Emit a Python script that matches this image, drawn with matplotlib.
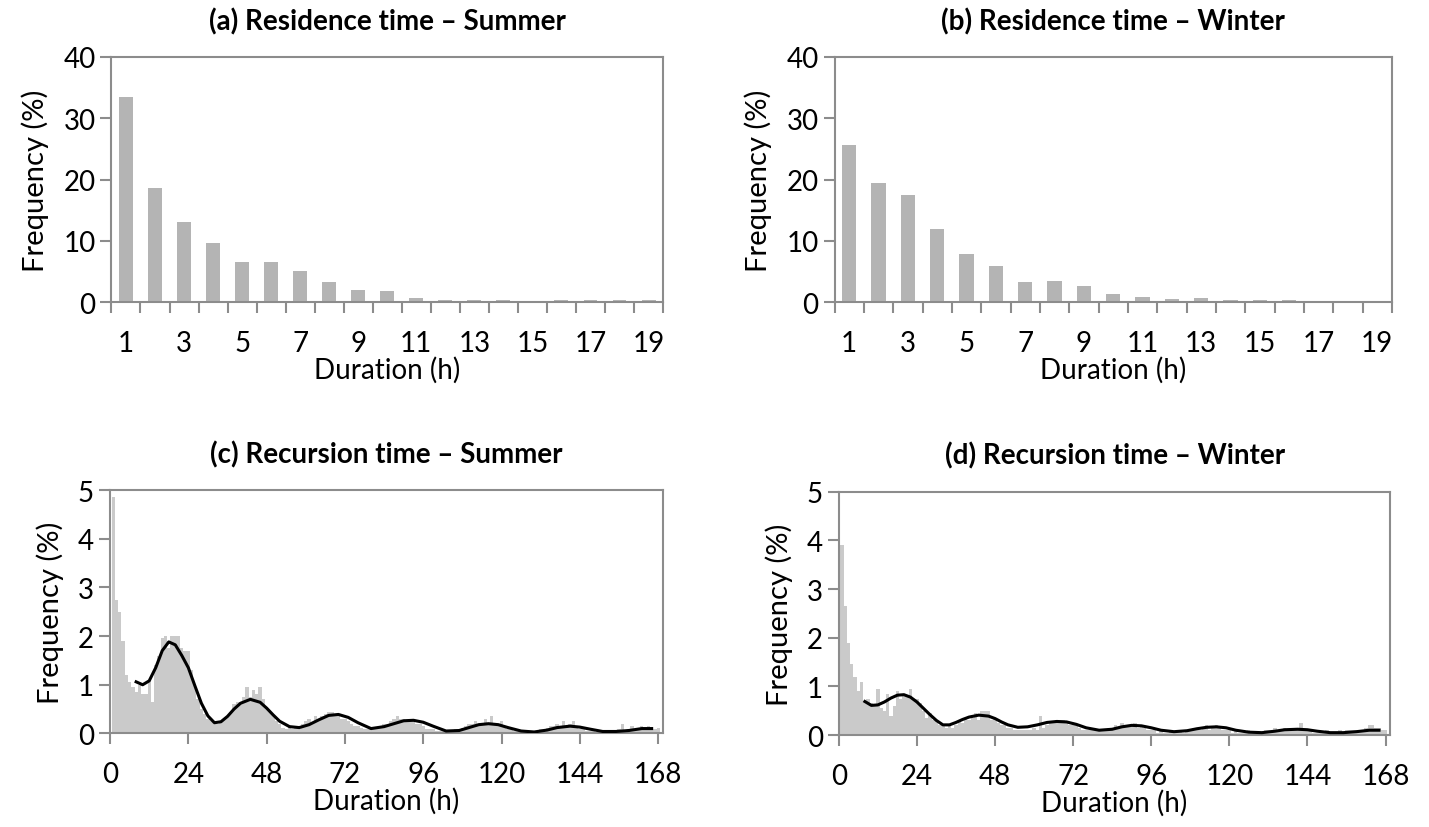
import matplotlib
matplotlib.use("Agg")
import matplotlib.pyplot as plt
import numpy as np

plt.rcParams['font.family'] = ['Lato', 'DejaVu Sans']

# residence time (%), hours 1..19
res_hours = list(range(1, 20))
res_summer = [33.5, 18.6, 13.1, 9.6, 6.6, 6.6, 5.1, 3.3, 2.0, 1.8,
              0.7, 0.3, 0.3, 0.3, 0.0, 0.3, 0.3, 0.3, 0.3]
res_winter = [25.6, 19.4, 17.4, 12.0, 7.9, 5.9, 3.3, 3.5, 2.7, 1.3,
              0.9, 0.5, 0.7, 0.3, 0.3, 0.3, 0.0, 0.0, 0.0]

# recursion time (%), hours 1..168
rec_hours = list(range(1, 169))
rec_summer = [
    4.85, 2.75, 2.5, 1.9, 1.2, 1.05, 0.95, 0.85, 1.0, 0.8,
    0.8, 1.1, 0.65, 1.4, 1.6, 1.95, 2.0, 1.75, 2.0, 2.0,
    2.0, 1.75, 1.7, 1.7, 1.3, 1.0, 0.7, 0.5, 0.4, 0.3,
    0.25, 0.2, 0.2, 0.25, 0.3, 0.35, 0.45, 0.6, 0.65, 0.65,
    0.75, 0.95, 0.75, 0.9, 0.8, 0.95, 0.7, 0.55, 0.45, 0.35,
    0.25, 0.2, 0.12, 0.1, 0.15, 0.1, 0.15, 0.1, 0.2, 0.25,
    0.3, 0.2, 0.35, 0.3, 0.35, 0.4, 0.45, 0.45, 0.4, 0.35,
    0.3, 0.3, 0.25, 0.2, 0.15, 0.15, 0.12, 0.1, 0.1, 0.1,
    0.1, 0.12, 0.15, 0.2, 0.2, 0.25, 0.3, 0.35, 0.3, 0.3,
    0.25, 0.3, 0.25, 0.2, 0.2, 0.15, 0.1, 0.1, 0.1, 0.05,
    0.05, 0.05, 0.08, 0.05, 0.05, 0.1, 0.1, 0.12, 0.15, 0.2,
    0.2, 0.25, 0.2, 0.2, 0.3, 0.2, 0.35, 0.2, 0.15, 0.25,
    0.15, 0.1, 0.1, 0.05, 0.05, 0.05, 0.03, 0.05, 0.03, 0.05,
    0.05, 0.1, 0.1, 0.12, 0.15, 0.15, 0.2, 0.15, 0.25, 0.15,
    0.2, 0.25, 0.15, 0.1, 0.1, 0.05, 0.05, 0.05, 0.03, 0.03,
    0.05, 0.05, 0.03, 0.05, 0.08, 0.1, 0.2, 0.05, 0.1, 0.15,
    0.1, 0.12, 0.15, 0.1, 0.15, 0.1, 0.1, 0.12]
rec_winter = [
    3.9, 2.65, 1.9, 1.45, 1.2, 0.9, 1.1, 0.7, 0.75, 0.65,
    0.6, 0.95, 0.55, 0.5, 0.85, 0.4, 0.6, 0.9, 0.75, 0.85,
    0.8, 0.95, 0.75, 0.75, 0.65, 0.5, 0.35, 0.45, 0.3, 0.3,
    0.2, 0.2, 0.15, 0.2, 0.15, 0.2, 0.3, 0.25, 0.35, 0.3,
    0.35, 0.45, 0.3, 0.5, 0.5, 0.5, 0.3, 0.35, 0.25, 0.2,
    0.2, 0.15, 0.15, 0.1, 0.1, 0.1, 0.1, 0.1, 0.1, 0.15,
    0.1, 0.4, 0.15, 0.2, 0.25, 0.25, 0.3, 0.3, 0.3, 0.25,
    0.2, 0.25, 0.2, 0.15, 0.1, 0.1, 0.1, 0.1, 0.12, 0.08,
    0.12, 0.1, 0.15, 0.15, 0.2, 0.15, 0.25, 0.2, 0.2, 0.2,
    0.25, 0.15, 0.2, 0.15, 0.1, 0.1, 0.1, 0.05, 0.08, 0.05,
    0.05, 0.1, 0.05, 0.1, 0.1, 0.05, 0.1, 0.1, 0.15, 0.1,
    0.1, 0.15, 0.2, 0.1, 0.15, 0.2, 0.15, 0.1, 0.1, 0.15,
    0.05, 0.1, 0.05, 0.05, 0.05, 0.1, 0.05, 0.05, 0.05, 0.05,
    0.1, 0.1, 0.1, 0.15, 0.1, 0.1, 0.15, 0.1, 0.15, 0.1,
    0.1, 0.25, 0.1, 0.1, 0.1, 0.05, 0.05, 0.05, 0.05, 0.1,
    0.05, 0.05, 0.05, 0.1, 0.05, 0.1, 0.1, 0.1, 0.1, 0.1,
    0.1, 0.15, 0.2, 0.2, 0.15, 0.15, 0.1, 0.1]

# smoothed curves
curve_hours = [8, 10, 12, 14, 16, 18, 20, 22, 24, 26,
               28, 30, 32, 34, 36, 38, 40, 43, 46, 48,
               50, 52, 55, 58, 61, 64, 67, 70, 73, 76,
               80, 84, 87, 90, 93, 96, 99, 103, 107, 110,
               113, 116, 119, 122, 126, 130, 134, 137, 141, 144,
               147, 151, 155, 159, 163, 166]
curve_summer = [1.06, 1.0, 1.08, 1.35, 1.7, 1.88, 1.82, 1.6, 1.35, 0.98,
                0.62, 0.36, 0.22, 0.24, 0.35, 0.5, 0.62, 0.70, 0.64, 0.52,
                0.38, 0.25, 0.14, 0.12, 0.18, 0.28, 0.37, 0.39, 0.33, 0.22,
                0.1, 0.14, 0.2, 0.26, 0.27, 0.23, 0.15, 0.05, 0.06, 0.12,
                0.18, 0.2, 0.18, 0.12, 0.05, 0.03, 0.07, 0.12, 0.15, 0.13,
                0.09, 0.04, 0.04, 0.06, 0.1, 0.1]
curve_winter = [0.69, 0.61, 0.62, 0.68, 0.76, 0.82, 0.83, 0.78, 0.68, 0.55,
                0.42, 0.3, 0.21, 0.21, 0.26, 0.32, 0.37, 0.41, 0.39, 0.34,
                0.27, 0.21, 0.16, 0.17, 0.21, 0.26, 0.28, 0.27, 0.22, 0.15,
                0.1, 0.12, 0.17, 0.2, 0.19, 0.15, 0.1, 0.07, 0.09, 0.13,
                0.16, 0.17, 0.15, 0.1, 0.06, 0.05, 0.08, 0.11, 0.12, 0.11,
                0.08, 0.05, 0.05, 0.07, 0.1, 0.1]

AX_GRAY = '#8c8c8c'
FS = 20


def style_axes(ax):
    for s in ax.spines.values():
        s.set_color(AX_GRAY)
        s.set_linewidth(1.5)
    ax.tick_params(axis='both', direction='out', color=AX_GRAY, width=1.5,
                   length=8, labelsize=FS, labelcolor='black')
    ax.set_ylabel('Frequency (%)', fontsize=FS + 1, labelpad=10)
    ax.set_xlabel('Duration (h)', fontsize=FS, labelpad=0)


def residence(ax, vals, title):
    ax.bar(res_hours, vals, width=0.48, color='#b4b4b4', zorder=2)
    ax.set_xlim(0.5, 19.5)
    ax.set_ylim(0, 40)
    ax.set_yticks([0, 10, 20, 30, 40])
    style_axes(ax)
    ax.set_xticks(np.arange(0.5, 20, 1.0))
    ax.set_xticklabels([])
    ax.set_xticks(res_hours[::2], minor=True)
    ax.set_xticklabels([str(h) for h in res_hours[::2]], minor=True)
    ax.tick_params(axis='x', which='minor', length=0, pad=20, labelsize=FS)
    ax.set_title(title, fontsize=FS, fontweight='bold', pad=20)


def recursion(ax, vals, cvals, title):
    ax.bar(rec_hours, vals, width=1.0, color='#cacaca', zorder=2)
    ax.plot(curve_hours, cvals, color='black', lw=2.2, zorder=3,
            solid_joinstyle='round')
    ax.set_xlim(0, 169.5)
    ax.set_ylim(0, 5)
    ax.set_yticks([0, 1, 2, 3, 4, 5])
    ax.set_xticks(range(0, 169, 24))
    style_axes(ax)
    ax.tick_params(axis='x', pad=12)
    ax.set_title(title, fontsize=FS, fontweight='bold', pad=20)


fig = plt.figure(figsize=(14.29, 8.28), dpi=100)
ax_a = fig.add_axes([0.078, 0.634, 0.386, 0.296])
ax_b = fig.add_axes([0.584, 0.634, 0.390, 0.296])
ax_c = fig.add_axes([0.077, 0.113, 0.387, 0.294])
ax_d = fig.add_axes([0.587, 0.111, 0.386, 0.294])

residence(ax_a, res_summer, '(a) Residence time \u2013 Summer')
residence(ax_b, res_winter, '(b) Residence time \u2013 Winter')
recursion(ax_c, rec_summer, curve_summer, '(c) Recursion time \u2013 Summer')
recursion(ax_d, rec_winter, curve_winter, '(d) Recursion time \u2013 Winter')

fig.savefig('out.png', dpi=100)
